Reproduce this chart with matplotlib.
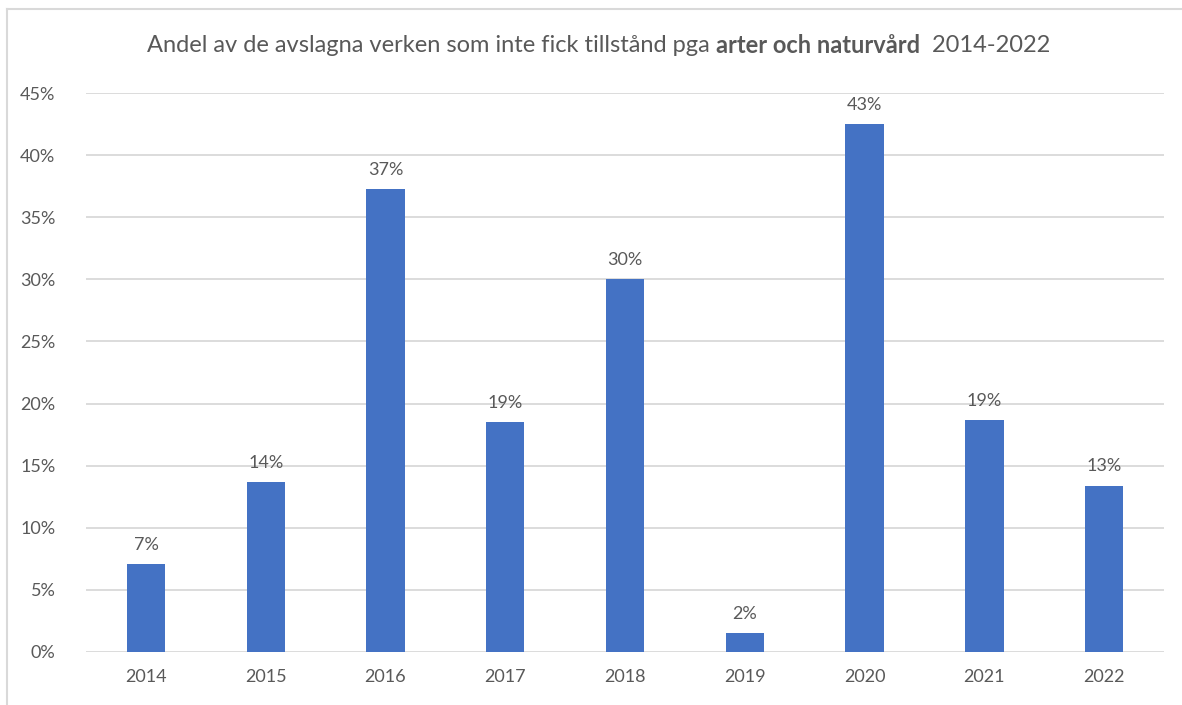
import matplotlib.pyplot as plt
from matplotlib.ticker import PercentFormatter

plt.rcParams['font.family'] = ['Lato', 'DejaVu Sans']

years = ['2014', '2015', '2016', '2017', '2018', '2019', '2020', '2021', '2022']
shares = [0.071, 0.137, 0.373, 0.185, 0.300, 0.015, 0.425, 0.187, 0.134]
labels = ['7%', '14%', '37%', '19%', '30%', '2%', '43%', '19%', '13%']

grey = '#595959'
fig = plt.figure(figsize=(11.82, 7.05), dpi=100)
ax = fig.add_axes([0.0728, 0.0752, 0.912, 0.7928])

x = range(len(years))
bars = ax.bar(x, shares, width=0.32, color='#4472C4', zorder=3)
for b, lab in zip(bars, labels):
    ax.annotate(lab, (b.get_x() + b.get_width() / 2, b.get_height()),
                xytext=(0, 8), textcoords='offset points', ha='center', va='bottom',
                fontsize=13, color=grey)

ax.set_xlim(-0.5, len(years) - 0.5)
ax.set_ylim(0, 0.45)
ax.set_yticks([i * 0.05 for i in range(10)])
ax.yaxis.set_major_formatter(PercentFormatter(1.0, decimals=0))
ax.set_xticks(list(x))
ax.set_xticklabels(years)
ax.tick_params(length=0, labelsize=13, labelcolor=grey)
ax.tick_params(axis='x', pad=12)
ax.tick_params(axis='y', pad=22)
ax.grid(axis='y', color='#d9d9d9', linewidth=1.3, zorder=0)
for s in ax.spines.values():
    s.set_visible(False)

# title with a bold middle part
parts = [('Andel av de avslagna verken som inte fick tillstånd pga ', 'normal'),
         ('arter och naturvård', 'bold'),
         ('  2014-2022', 'normal')]
fig.canvas.draw()
r = fig.canvas.get_renderer()
texts = []
for s, w in parts:
    t = fig.text(0, 0.935, s, fontsize=17, color=grey, fontweight=w, va='center')
    texts.append(t)
widths = [t.get_window_extent(r).width for t in texts]
xpos = 599 - sum(widths) / 2
for t, w in zip(texts, widths):
    t.set_x(xpos / 1182)
    xpos += w

# frame lines
fig.add_artist(plt.Line2D([7 / 1182, 7 / 1182], [0, 1 - 9 / 705], color='#d9d9d9', lw=1.5))
fig.add_artist(plt.Line2D([7 / 1182, 1], [1 - 9 / 705, 1 - 9 / 705], color='#d9d9d9', lw=1.5))

fig.savefig('out.png', dpi=100)
